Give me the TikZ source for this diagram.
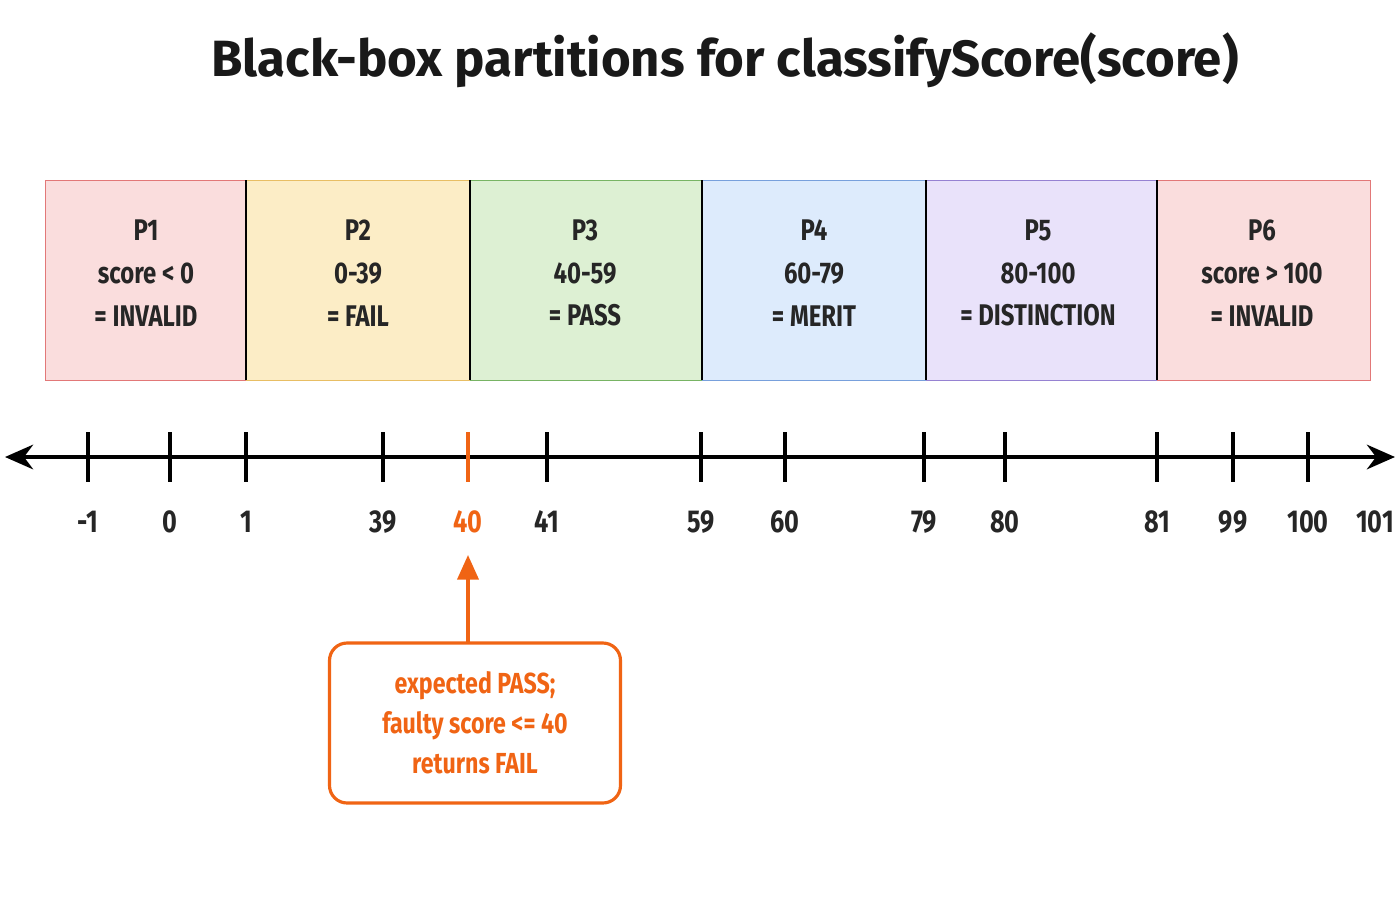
\documentclass[tikz,border=0pt]{standalone}
\usepackage{fontspec}
\setmainfont{Fira Sans}
\usetikzlibrary{arrows.meta}
\definecolor{pinkF}{RGB}{250,221,221}\definecolor{pinkD}{RGB}{226,120,120}
\definecolor{yelF}{RGB}{252,237,198}\definecolor{yelD}{RGB}{232,190,100}
\definecolor{grnF}{RGB}{221,240,211}\definecolor{grnD}{RGB}{120,180,100}
\definecolor{bluF}{RGB}{221,235,252}\definecolor{bluD}{RGB}{120,160,220}
\definecolor{lavF}{RGB}{233,226,250}\definecolor{lavD}{RGB}{150,130,210}
\definecolor{orng}{RGB}{240,100,20}
\tikzset{
  part/.style={font=\fontsize{17}{24.4}\selectfont\bfseries\addfontfeature{FakeStretch=0.8}, align=center, text=black!85},
  tick/.style={line width=2pt},
  lbl/.style={font=\fontsize{18}{20}\selectfont\bfseries\addfontfeature{FakeStretch=0.8}, text=black!85}
}
\begin{document}
\begin{tikzpicture}[x=0.02cm,y=-0.02cm]
  \useasboundingbox[fill=white] (0,0) rectangle (1400,900);
  \node[font=\fontsize{29}{36}\selectfont\bfseries, text=black!90] (title) at (725,60) {Black-box partitions for classifyScore(score)};

  % partitions
  \draw[fill=pinkF, draw=pinkD] (45,180) rectangle (246,380);
  \draw[fill=yelF, draw=yelD] (246,180) rectangle (470,380);
  \draw[fill=grnF, draw=grnD] (470,180) rectangle (702,380);
  \draw[fill=bluF, draw=bluD] (702,180) rectangle (926,380);
  \draw[fill=lavF, draw=lavD] (926,180) rectangle (1157,380);
  \draw[fill=pinkF, draw=pinkD] (1157,180) rectangle (1370,380);
  \foreach \x in {246,470,702,926,1157} \draw[line width=1pt] (\x,180) -- (\x,380);
  \node[part] (p1) at (146,273) {P1\\score < 0\\= INVALID};
  \node[part] (p2) at (358,273) {P2\\0-39\\= FAIL};
  \node[part] (p3) at (585,273) {P3\\40-59\\= PASS};
  \node[part] (p4) at (814,273) {P4\\60-79\\= MERIT};
  \node[part] (p5) at (1038,273) {P5\\80-100\\= DISTINCTION};
  \node[part] (p6) at (1262,273) {P6\\score > 100\\= INVALID};

  % number line
  \coordinate (lft) at (5,457);
  \coordinate (rgt) at (1395,457);
  \draw[line width=2.2pt, {Stealth[length=16pt,width=14pt]}-{Stealth[length=16pt,width=14pt]}] (lft) -- (rgt);
  \foreach \x/\v in {88/-1,170/0,246/1,383/39,547/41,701/59,785/60,924/79,1005/80,1157/81,1233/99,1308/100} {
    \draw[tick] (\x,432) -- (\x,482);
    \node[lbl] at (\x,522) {\v};
  }
  \node[lbl] at (1375,522) {101};
  \draw[tick, orng] (468,432) -- (468,482);
  \node[lbl, text=orng] (forty) at (468,522) {40};

  % callout
  \node[draw=orng, line width=1.8pt, rounded corners=10pt, text=orng, align=center,
        minimum width=291*0.02cm, minimum height=160*0.02cm,
        font=\fontsize{16.5}{22.7}\selectfont\bfseries\addfontfeature{FakeStretch=0.8}] (note) at (475,723)
        {expected PASS;\\faulty score <= 40\\returns FAIL};
  \draw[orng, line width=2pt, -{Triangle[length=14pt,width=12pt]}] (468,642) -- (468,555);
\end{tikzpicture}
\end{document}
